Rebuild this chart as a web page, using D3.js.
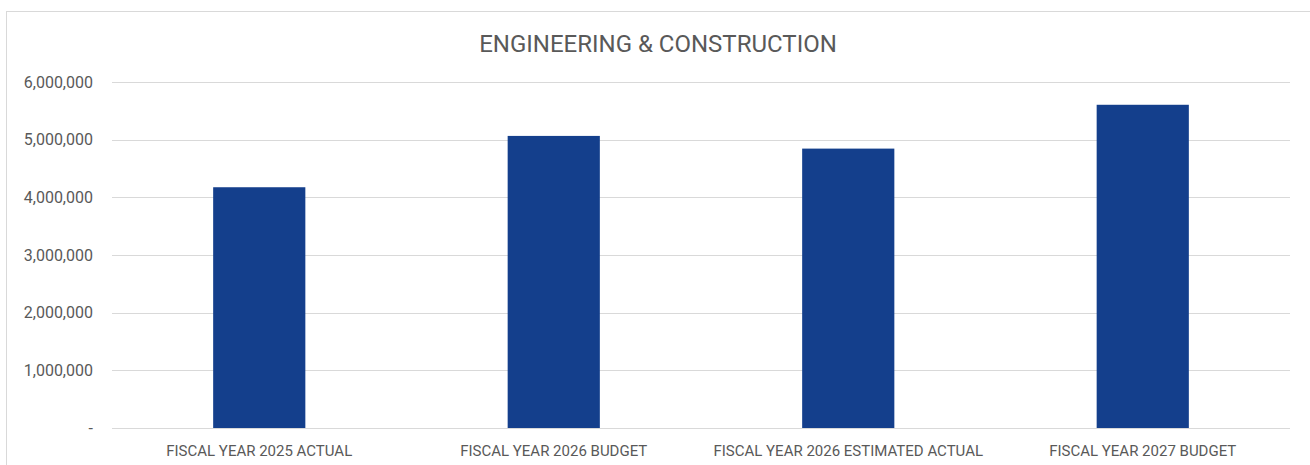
<!DOCTYPE html>
<html>
<head>
<meta charset="utf-8">
<script src="https://cdn.jsdelivr.net/npm/d3@7"></script>
<style>
  body { margin: 0; background: #fff; }
  svg text { font-family: Roboto, "Liberation Sans", sans-serif; fill: #595959; }
</style>
</head>
<body>
<svg id="chart" width="1310" height="465"></svg>
<script>
// Data
const categories = ["FISCAL YEAR 2025 ACTUAL", "FISCAL YEAR 2026 BUDGET", "FISCAL YEAR 2026 ESTIMATED ACTUAL", "FISCAL YEAR 2027 BUDGET"];
const values = [4175000, 5065000, 4845000, 5605000];
const yTicks = [0, 1000000, 2000000, 3000000, 4000000, 5000000, 6000000];
const title = "ENGINEERING & CONSTRUCTION";

const svg = d3.select("#chart"),
  width = +svg.attr("width"),
  height = +svg.attr("height");

const margin = {top: 82, right: 20, bottom: 37, left: 112};

// frame
svg.append("rect")
  .attr("x", 6.5).attr("y", 11.5)
  .attr("width", width + 10).attr("height", height + 10)
  .attr("fill", "none")
  .attr("stroke", "#d9d9d9");

const x = d3.scaleBand()
  .domain(categories)
  .range([margin.left, width - margin.right])
  .paddingInner(0.687)
  .paddingOuter(0.3435);

const y = d3.scaleLinear()
  .domain([0, 6000000])
  .range([height - margin.bottom, margin.top]);

// gridlines
svg.append("g")
  .selectAll("line")
  .data(yTicks)
  .enter()
  .append("line")
    .attr("x1", margin.left)
    .attr("x2", width - margin.right)
    .attr("y1", d => Math.round(y(d)) + 0.5)
    .attr("y2", d => Math.round(y(d)) + 0.5)
    .attr("stroke", "#d9d9d9")
    .attr("stroke-width", 1);

// y labels
const fmt = d3.format(",");
svg.append("g")
  .selectAll("text")
  .data(yTicks)
  .enter()
  .append("text")
    .attr("x", 93)
    .attr("y", d => y(d))
    .attr("dy", "0.35em")
    .attr("text-anchor", "end")
    .style("font-size", "16px")
    .text(d => d === 0 ? "-" : fmt(d));

// bars
svg.append("g")
  .selectAll("rect")
  .data(values)
  .enter()
  .append("rect")
    .attr("x", (d, i) => x(categories[i]))
    .attr("width", x.bandwidth())
    .attr("y", d => y(d))
    .attr("height", d => y(0) - y(d))
    .attr("fill", "#143f8c");

// x labels
svg.append("g")
  .selectAll("text")
  .data(categories)
  .enter()
  .append("text")
    .attr("x", d => x(d) + x.bandwidth() / 2)
    .attr("y", 456)
    .attr("text-anchor", "middle")
    .style("font-size", "15px")
    .text(d => d);

// title
svg.append("text")
  .attr("x", 658)
  .attr("y", 52)
  .attr("text-anchor", "middle")
  .style("font-size", "24px")
  .text(title);
</script>
</body>
</html>
